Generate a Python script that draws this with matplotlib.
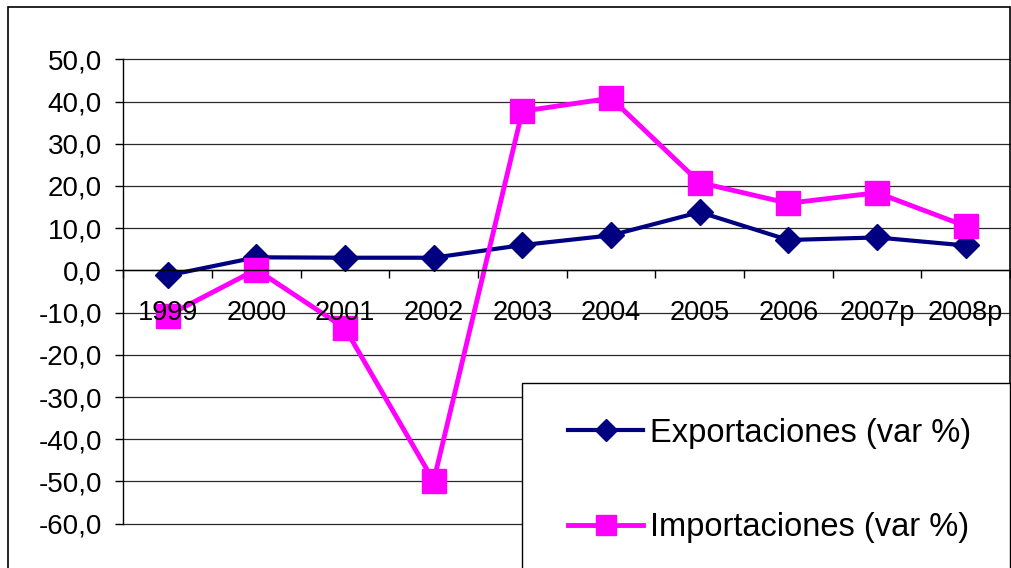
import matplotlib
matplotlib.use("Agg")
import matplotlib.pyplot as plt
from matplotlib.patches import Rectangle
from matplotlib.ticker import FixedLocator, NullFormatter, FuncFormatter

plt.rcParams['font.family'] = ['Liberation Sans', 'DejaVu Sans']

categories = ["1999", "2000", "2001", "2002", "2003", "2004", "2005", "2006", "2007p", "2008p"]
exportaciones = [-1.2, 3.1, 3.0, 3.0, 6.0, 8.3, 13.8, 7.2, 7.8, 5.9]
importaciones = [-10.7, 0.2, -13.7, -49.9, 37.7, 40.8, 20.8, 15.9, 18.4, 10.5]
yticks = [-60, -50, -40, -30, -20, -10, 0, 10, 20, 30, 40, 50]

W, H = 1012, 568
fig = plt.figure(figsize=(W / 100, H / 100), dpi=100)
fig.patch.set_facecolor('white')

# plot area in pixels
left, right, top, bottom = 123.3, 1010.0, 59.3, 523.7
ax = fig.add_axes([left / W, 1 - bottom / H, (right - left) / W, (bottom - top) / H])
ax.set_facecolor('none')

x = list(range(len(categories)))

for v in yticks:
    ax.axhline(v, color='#2a2a2a', lw=0.9, zorder=0.5, clip_on=False)

ax.plot(x, exportaciones, color='#000080', lw=3.0, marker='D', markersize=13.0,
        markerfacecolor='#000080', markeredgecolor='#000080', zorder=2,
        label='Exportaciones (var %)', solid_joinstyle='round')
ax.plot(x, importaciones, color='#FF00FF', lw=3.5, marker='s', markersize=17.5,
        markerfacecolor='#FF00FF', markeredgecolor='#FF00FF', zorder=2.2,
        label='Importaciones (var %)', solid_joinstyle='round')

ax.set_xlim(-0.5, len(categories) - 0.5)
ax.set_ylim(-60, 50)

for s in ['top', 'right']:
    ax.spines[s].set_visible(False)
ax.spines['left'].set_color('black')
ax.spines['left'].set_linewidth(1.0)
ax.spines['bottom'].set_position(('data', 0))
ax.spines['bottom'].set_color('black')
ax.spines['bottom'].set_linewidth(1.0)

ax.set_yticks(yticks)
ax.yaxis.set_major_formatter(FuncFormatter(lambda v, p: f"{v:.1f}".replace('.', ',')))
ax.tick_params(axis='y', direction='out', length=5.5, width=1.0, pad=10, labelsize=20)

ax.xaxis.set_major_locator(FixedLocator([i - 0.5 for i in range(len(categories) + 1)]))
ax.xaxis.set_major_formatter(NullFormatter())
ax.xaxis.set_minor_locator(FixedLocator(x))
ax.set_xticklabels(categories, minor=True)
ax.tick_params(axis='x', which='major', direction='out', length=6, width=1.0)
ax.tick_params(axis='x', which='minor', length=0, pad=21, labelsize=19.5)
ax.xaxis.set_zorder(3)

# outer chart frame
fig.patches.append(Rectangle((8.3 / W, -0.05), (1010 - 8.3) / W, 1.05 - 7.3 / H,
                             transform=fig.transFigure, fill=False,
                             edgecolor='black', lw=1.2, zorder=0))
# legend frame
fig.patches.append(Rectangle((522 / W, -0.05), (1010 - 522) / W, 0.05 + 1 - 383 / H,
                             transform=fig.transFigure, facecolor='white',
                             edgecolor='black', lw=1.0, zorder=5))

leg = fig.legend(loc='center left', bbox_to_anchor=(568 / W, 1 - 480.5 / H),
                 frameon=False, fontsize=23.5, borderpad=0, borderaxespad=0,
                 handlelength=2.3, handletextpad=0.2, labelspacing=1.95,
                 markerscale=0.85)
leg.set_zorder(6)

fig.savefig('out.png', dpi=100)
